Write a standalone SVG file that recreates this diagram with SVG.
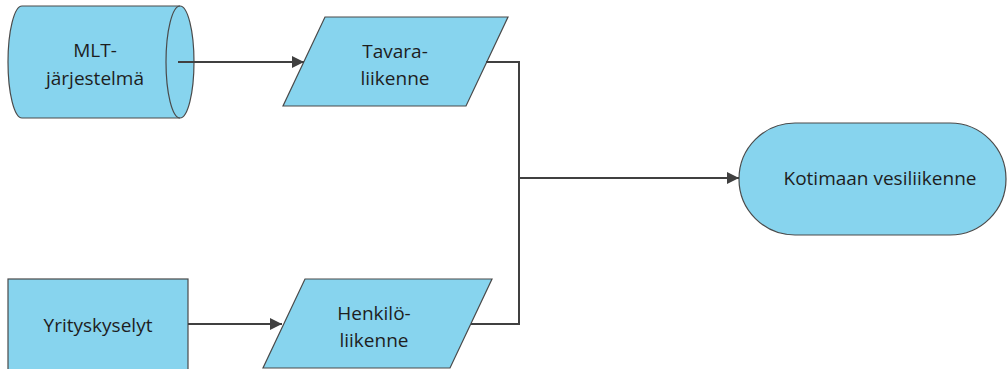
<svg xmlns="http://www.w3.org/2000/svg" width="1008" height="369" viewBox="0 0 1008 369">
  <style>
    .shape { fill: #87d4ee; stroke: #4a4a4a; stroke-width: 1.2; }
    .rim { fill: none; stroke: #4a4a4a; stroke-width: 1.2; }
    .label { font-family: "Open Sans", "Noto Sans", sans-serif; font-size: 19px; fill: #1e1e1e; text-anchor: middle; }
    .wire { fill: none; stroke: #404040; stroke-width: 2; }
  </style>
  <defs>
    <marker id="arrow" viewBox="0 0 10 10" refX="10" refY="5" markerWidth="6" markerHeight="6" orient="auto" markerUnits="strokeWidth">
      <path d="M0,0 L10,5 L0,10 Z" fill="#404040"/>
    </marker>
  </defs>

  <!-- data store: MLT-järjestelmä -->
  <g id="mlt">
    <path class="shape" d="M22,6 L180,6 A14,56 0 0 1 180,118 L22,118 A14,56 0 0 1 22,6 Z"/>
    <path class="rim" d="M180,6 A14,56 0 0 0 180,118"/>
    <text class="label" x="95" y="57">MLT-</text>
    <text class="label" x="95" y="85">järjestelmä</text>
  </g>

  <!-- input: Tavaraliikenne -->
  <g id="tavara">
    <polygon class="shape" points="325,17 508,17 466,106 283,106"/>
    <text class="label" x="395" y="58">Tavara-</text>
    <text class="label" x="395" y="85">liikenne</text>
  </g>

  <!-- process: Yrityskyselyt -->
  <g id="yrityskyselyt">
    <rect class="shape" x="8" y="279" width="180" height="112"/>
    <text class="label" x="98" y="332">Yrityskyselyt</text>
  </g>

  <!-- input: Henkilöliikenne -->
  <g id="henkilo">
    <polygon class="shape" points="305,279 492,279 450,368 263,368"/>
    <text class="label" x="374" y="320">Henkilö-</text>
    <text class="label" x="374" y="347">liikenne</text>
  </g>

  <!-- terminator: Kotimaan vesiliikenne -->
  <g id="kotimaan">
    <rect class="shape" x="739" y="123" width="267" height="112" rx="56" ry="56"/>
    <text class="label" x="880" y="185">Kotimaan vesiliikenne</text>
  </g>

  <!-- connectors -->
  <g id="connectors">
    <path class="wire" d="M178,62 L304,62" marker-end="url(#arrow)"/>
    <path class="wire" d="M188,324 L282,324" marker-end="url(#arrow)"/>
    <path class="wire" d="M486,62 L519,62 L519,324 L471,324"/>
    <path class="wire" d="M519,178 L739,178" marker-end="url(#arrow)"/>
  </g>
</svg>
